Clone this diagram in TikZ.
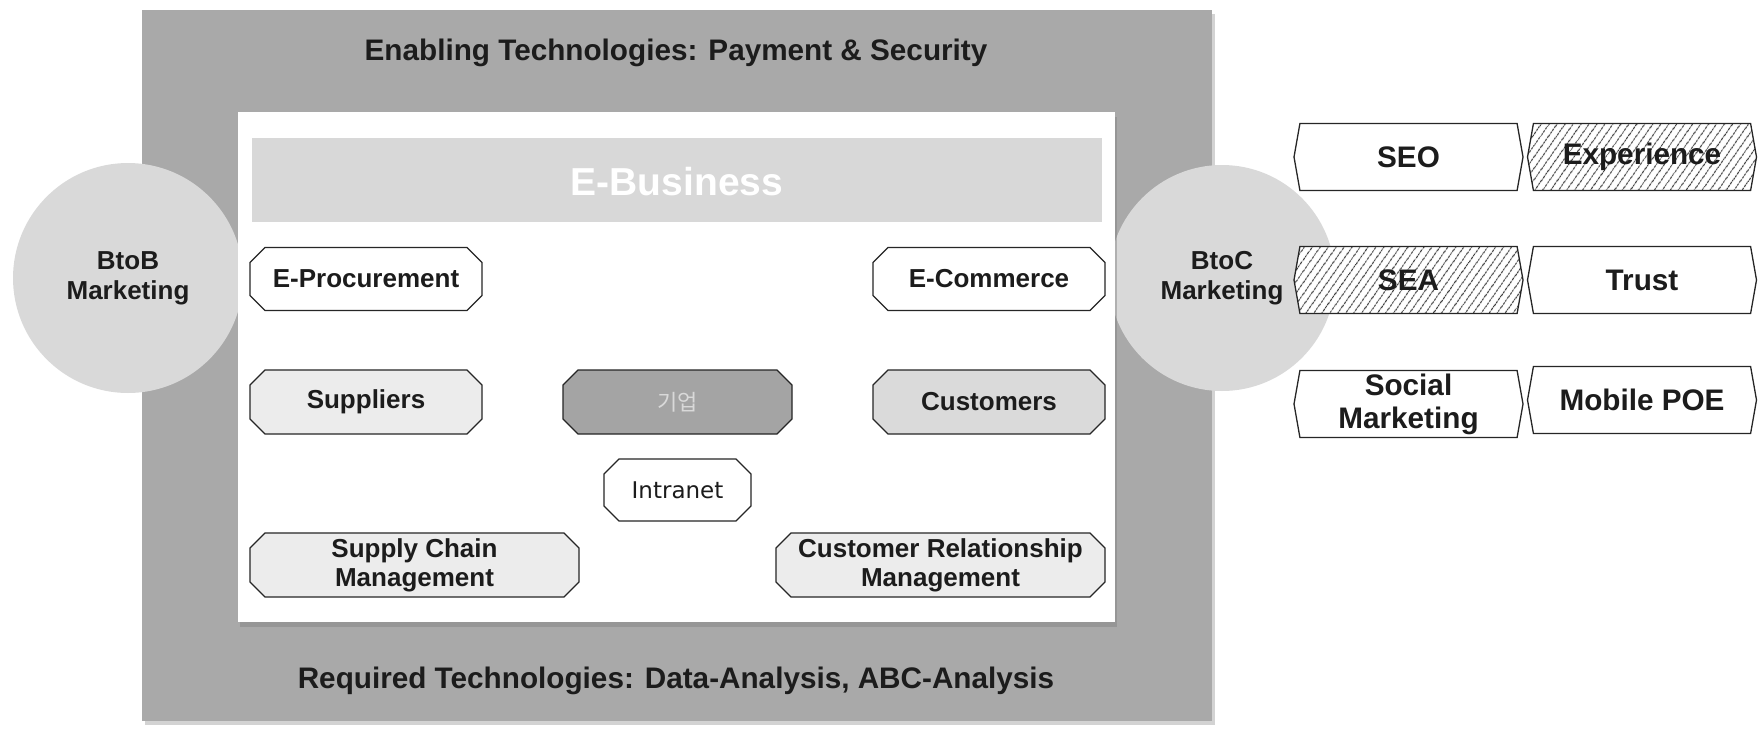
\documentclass[tikz,border=0pt]{standalone}
\usepackage{fontspec}
\setmainfont{Liberation Sans}
\newfontfamily\krfont{Noto Sans CJK KR}
\newfontfamily\lucfont{DejaVu Sans}
\usetikzlibrary{shapes.misc,shapes.symbols,shadows,patterns.meta}
\definecolor{framegray}{HTML}{A9A9A9}
\definecolor{ballgray}{HTML}{D9D9D9}
\definecolor{bargray}{HTML}{D8D8D8}
\definecolor{palegray}{HTML}{ECECEC}
\definecolor{midgray}{HTML}{DADADA}
\definecolor{corpgray}{HTML}{A4A4A4}
\definecolor{inkgray}{HTML}{1C1C1C}

\begin{document}
\begin{tikzpicture}[x=1pt,y=-1pt]
\tikzstyle{unit}=[chamfered rectangle,chamfered rectangle xsep=7.5pt,chamfered rectangle ysep=7.5pt,draw=black!85,line width=1.3pt,fill=white,minimum width=232pt,minimum height=63pt,inner sep=0pt,align=center,text=inkgray,font=\fontsize{26}{29}\selectfont\bfseries]
\tikzstyle{wideunit}=[unit,minimum width=329pt,minimum height=64pt,inner ysep=-4pt]
\tikzstyle{tag}=[signal,signal to=west and east,signal pointer angle=160,draw=black!85,line width=1.3pt,fill=white,minimum width=229pt,minimum height=67pt,inner sep=0pt,align=center,text=inkgray,font=\fontsize{29.7}{33}\selectfont\bfseries]
\tikzstyle{hatched}=[preaction={fill=white},pattern={Lines[angle=55,distance=6.5pt,line width=1pt]},pattern color=black!75]
\tikzstyle{ball}=[circle,fill=ballgray,minimum size=230pt,inner sep=0pt,align=center,text=inkgray,font=\fontsize{26}{30}\selectfont\bfseries]
\tikzstyle{banner}=[text=inkgray,font=\fontsize{29.7}{33}\selectfont\bfseries,anchor=base]
\useasboundingbox (0,0) rectangle (1758,728);

\fill[framegray,drop shadow={shadow xshift=3pt,shadow yshift=-4pt,opacity=.35}] (142,10) rectangle (1212,721);
\node[banner] (enabling) at (676,60) {Enabling Technologies: Payment \& Security};
\node[banner] (required) at (676,688) {Required Technologies: Data-Analysis, ABC-Analysis};

\node[ball] (btob) at (128,278) {BtoB\\Marketing};
\node[ball,minimum size=226pt] (btoc) at (1222,278) {BtoC\\Marketing};

\fill[white,drop shadow={shadow xshift=2pt,shadow yshift=-5pt,opacity=.45}] (238,112) rectangle (1115,622);
\fill[bargray] (252,138) rectangle (1102,222);
\node[text=white,font=\fontsize{39}{39}\selectfont\bfseries] (ebiz) at (677,182) {E-Business};

\node[unit] (eproc) at (366,279) {E-Procurement};
\node[unit] (ecom) at (989,279) {E-Commerce};
\node[unit,fill=palegray,minimum height=64pt] (supp) at (366,402) {Suppliers};
\node[unit,fill=corpgray,minimum width=229pt,minimum height=64pt,text=ballgray,font=\fontsize{22}{22}\selectfont\krfont] (corp) at (677.5,402) {기업};
\node[unit,fill=midgray,minimum height=64pt] (cust) at (989,402) {Customers};
\node[unit,minimum width=147pt,minimum height=62pt,font=\fontsize{23}{23}\selectfont\lucfont] (intra) at (677.5,490) {Intranet};
\node[wideunit,fill=palegray] (scm) at (414.5,565) {Supply Chain\\Management};
\node[wideunit,fill=palegray] (crm) at (940.5,565) {Customer Relationship\\Management};

\node[tag] (seo) at (1408.5,157) {SEO};
\node[tag,hatched] (exper) at (1642,157) {Experience};
\node[tag,hatched] (sea) at (1408.5,280) {SEA};
\node[tag] (trust) at (1642,280) {Trust};
\node[tag] (social) at (1408.5,404) {Social\\Marketing};
\node[tag] (mobile) at (1642,400) {Mobile POE};
\end{tikzpicture}
\end{document}
